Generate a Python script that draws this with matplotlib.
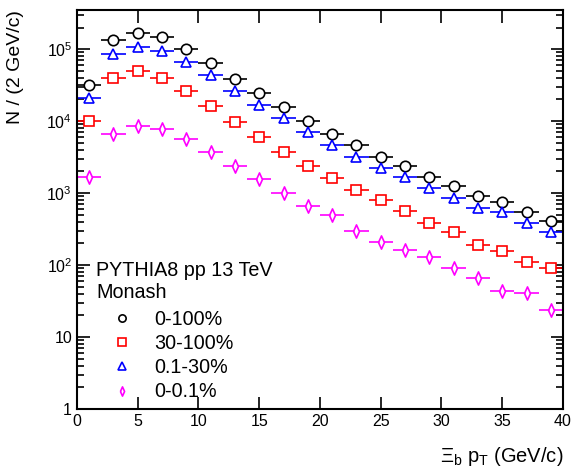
import numpy as np
import matplotlib
matplotlib.use("Agg")
import matplotlib.pyplot as plt
from matplotlib.lines import Line2D
from matplotlib.ticker import FixedLocator, FuncFormatter, LogLocator, NullFormatter

plt.rcParams['font.family'] = ['Liberation Sans', 'DejaVu Sans']
plt.rcParams['mathtext.fontset'] = 'custom'
plt.rcParams['mathtext.rm'] = 'Liberation Sans'
plt.rcParams['mathtext.it'] = 'Liberation Sans'

# bin centres (2 GeV/c bins)
pt = [1, 3, 5, 7, 9, 11, 13, 15, 17, 19, 21, 23, 25, 27, 29, 31, 33, 35, 37, 39]

# yields
mult_0_100 = [3.2e4, 1.32e5, 1.68e5, 1.47e5, 1.0e5, 6.4e4, 3.9e4, 2.45e4, 1.57e4, 1.0e4,
              6.6e3, 4.6e3, 3.2e3, 2.35e3, 1.68e3, 1.24e3, 9.0e2, 7.5e2, 5.4e2, 4.1e2]
mult_30_100 = [1.0e4, 3.95e4, 4.9e4, 3.95e4, 2.65e4, 1.62e4, 9.7e3, 6.1e3, 3.75e3, 2.4e3,
               1.64e3, 1.12e3, 8.0e2, 5.6e2, 3.85e2, 2.85e2, 1.9e2, 1.57e2, 1.12e2, 9.0e1]
mult_01_30 = [2.1e4, 8.7e4, 1.08e5, 9.5e4, 6.7e4, 4.4e4, 2.65e4, 1.7e4, 1.09e4, 7.0e3,
              4.65e3, 3.15e3, 2.25e3, 1.65e3, 1.17e3, 8.6e2, 6.3e2, 5.4e2, 3.85e2, 2.85e2]
mult_0_01 = [1.65e3, 6.7e3, 8.6e3, 7.8e3, 5.6e3, 3.7e3, 2.4e3, 1.56e3, 9.9e2, 6.6e2,
             4.9e2, 3.0e2, 2.1e2, 1.6e2, 1.28e2, 9.2e1, 6.7e1, 4.4e1, 4.1e1, 2.4e1]

labels = ['0-100%', '30-100%', '0.1-30%', '0-0.1%']
series = [mult_0_100, mult_30_100, mult_01_30, mult_0_01]
colors = ['black', 'red', 'blue', 'magenta']
# ROOT-like thin diamond
thin_diamond = [(-0.45, 0), (0, 1), (0.45, 0), (0, -1), (-0.45, 0)]
markers = ['o', 's', '^', thin_diamond]
msizes = [7.5, 7.5, 7.5, 9.5]

fig = plt.figure(figsize=(5.77, 4.68), dpi=100)
ax = fig.add_axes([0.1334, 0.1261, 0.8423, 0.8525])

for y, c, m, ms in zip(series, colors, markers, msizes):
    ax.errorbar(pt, y, xerr=1, fmt='none', ecolor=c, elinewidth=1.2, capsize=0)
    ax.plot(pt, y, ls='none', marker=m, ms=ms, mfc='white', mec=c, mew=1.2)

ax.set_yscale('log')
ax.set_xlim(0, 40)
ax.set_ylim(1, 3.5e5)

ax.xaxis.set_major_locator(FixedLocator([0, 5, 10, 15, 20, 25, 30, 35, 40]))
ax.yaxis.set_major_locator(LogLocator(base=10, numticks=10))
ax.yaxis.set_minor_locator(LogLocator(base=10, subs=np.arange(2, 10), numticks=20))
ax.yaxis.set_minor_formatter(NullFormatter())


def ylab(v, pos):
    e = int(round(np.log10(v)))
    if e == 0:
        return '1'
    if e == 1:
        return '10'
    return r'$10^{%d}$' % e


ax.yaxis.set_major_formatter(FuncFormatter(ylab))
ax.tick_params(which='both', direction='in', top=True, right=True, labelsize=11.5, width=1.2)
ax.tick_params(which='major', length=9)
ax.tick_params(which='minor', length=5)
for s in ax.spines.values():
    s.set_linewidth(1.5)

ax.set_ylabel('N / (2 GeV/c)', fontsize=14, loc='top')
ax.set_xlabel(r'$\Xi_{\rm b}$ p$_{\rm T}$ (GeV/c)', fontsize=14.5, loc='right', va='center')
ax.yaxis.set_label_coords(-0.108, 1.0)
ax.xaxis.set_label_coords(1.0, -0.118)

ax.text(0.039, 0.348, 'PYTHIA8 pp 13 TeV', transform=ax.transAxes, fontsize=14.2, va='center')
ax.text(0.039, 0.291, 'Monash', transform=ax.transAxes, fontsize=14.2, va='center')

handles = [Line2D([], [], ls='none', marker=m, color=c, mfc='white', mec=c, ms=ms * 0.7, mew=1.2)
           for c, m, ms in zip(colors, markers, msizes)]
ax.legend(handles, labels, loc='upper left', bbox_to_anchor=(0.072, 0.248), frameon=False,
          fontsize=14.2, handlelength=1.0, handletextpad=1.15, labelspacing=0.26,
          borderpad=0, borderaxespad=0)

fig.savefig('out.png', dpi=100)
